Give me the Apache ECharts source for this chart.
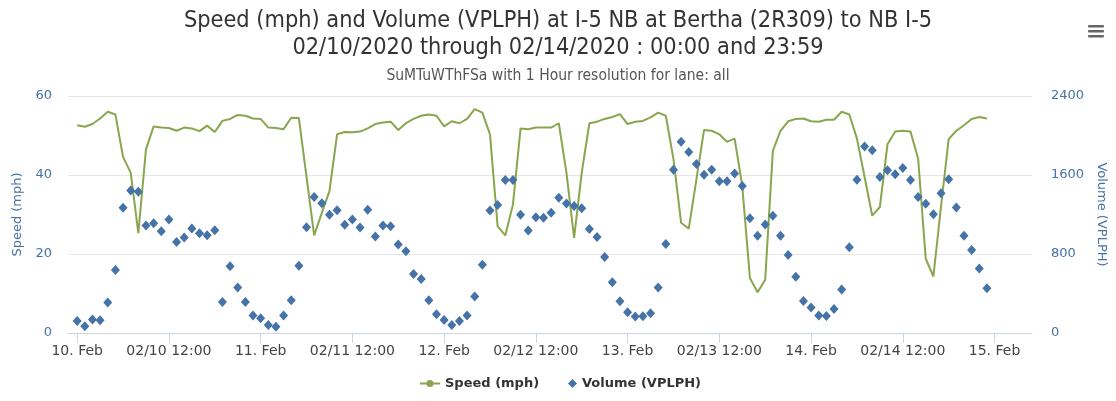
<!DOCTYPE html>
<html>
<head>
<meta charset="utf-8">
<title>Speed and Volume - I-5 NB at Bertha</title>
<script src="https://cdn.jsdelivr.net/npm/echarts@6/dist/echarts.min.js"></script>
<style>
  html, body { margin: 0; padding: 0; background: #fff; }
  #chart { width: 1116px; height: 401px; }
</style>
</head>
<body>
<div id="chart"></div>
<script>
// hourly samples, 02/10/2020 00:00 .. 02/14/2020 23:00 (x = hours since start)
const startTime = new Date(2020, 1, 10, 0, 0).getTime();
const HOUR = 3600 * 1000;

// speed (mph), 24 values per day
const speedDay1 = [52.6, 52.2, 52.9, 54.3, 56.0, 55.3, 44.6, 40.6, 25.3, 46.5, 52.3, 52.0,
  51.9, 51.2, 52.0, 51.8, 51.1, 52.5, 50.9, 53.7, 54.2, 55.2, 55.0, 54.3];
const speedDay2 = [54.2, 52.0, 51.9, 51.6, 54.5, 54.4, 39.5, 24.7, 30.4, 35.9, 50.3, 50.9,
  50.8, 51.0, 51.8, 52.9, 53.3, 53.5, 51.4, 53.1, 54.2, 55.0, 55.3, 55.0];
const speedDay3 = [52.3, 53.6, 53.1, 54.2, 56.7, 55.8, 50.3, 27.0, 24.7, 32.5, 51.8, 51.6,
  52.0, 52.0, 52.0, 53.1, 40.6, 24.1, 40.6, 53.1, 53.5, 54.2, 54.7, 55.4];
const speedDay4 = [52.9, 53.5, 53.7, 54.6, 55.8, 55.0, 44.0, 27.9, 26.4, 38.9, 51.4, 51.2,
  50.3, 48.4, 49.2, 37.2, 13.9, 10.3, 13.5, 46.1, 51.2, 53.6, 54.2, 54.3];
const speedDay5 = [53.6, 53.5, 54.0, 54.0, 56.0, 55.3, 49.2, 39.5, 29.7, 31.9, 47.8, 51.0,
  51.2, 51.0, 44.2, 18.8, 14.3, 32.1, 49.1, 51.2, 52.6, 54.2, 54.7, 54.3];

// volume (VPLPH)
const volumeDay1 = [122, 68, 136, 129, 308, 637, 1268, 1444, 1431, 1088, 1112, 1031,
  1149, 922, 966, 1058, 1010, 990, 1041, 315, 675, 461, 315, 176];
const volumeDay2 = [149, 81, 64, 176, 332, 681, 1071, 1376, 1315, 1197, 1244, 1095,
  1149, 1068, 1248, 976, 1088, 1081, 895, 827, 597, 546, 332, 190];
const volumeDay3 = [132, 81, 122, 176, 370, 692, 1241, 1295, 1549, 1549, 1197, 1037,
  1173, 1166, 1217, 1370, 1312, 1285, 1264, 1054, 973, 770, 515, 322];
const volumeDay4 = [210, 166, 170, 200, 461, 902, 1654, 1936, 1834, 1712, 1603, 1654,
  1536, 1536, 1614, 1488, 1163, 986, 1098, 1187, 986, 790, 570, 325];
const volumeDay5 = [258, 176, 173, 244, 441, 868, 1553, 1888, 1851, 1580, 1648, 1607,
  1671, 1549, 1376, 1309, 1203, 1414, 1556, 1271, 986, 841, 654, 454];

const speedValues = [].concat(speedDay1, speedDay2, speedDay3, speedDay4, speedDay5);
const volumeValues = [].concat(volumeDay1, volumeDay2, volumeDay3, volumeDay4, volumeDay5);

// x ticks every 12 hours
const tickHours = [0, 12, 24, 36, 48, 60, 72, 84, 96, 108, 120];

const pad = (n) => (n < 10 ? '0' + n : '' + n);
const formatTick = (value) => {
  const d = new Date(startTime + Math.round(value) * HOUR);
  if (d.getHours() === 0) return d.getDate() + '. Feb';
  return pad(d.getMonth() + 1) + '/' + pad(d.getDate()) + ' ' + pad(d.getHours()) + ':' + pad(d.getMinutes());
};

const speedData = speedValues.map((v, i) => [i, v]);
const volumeData = volumeValues.map((v, i) => [i, v]);

const axisBlue = '#4572A7';
const labelFont = '"DejaVu Sans", Verdana, sans-serif';
const titleFont = '"Liberation Sans Narrow", "DejaVu Sans Condensed", sans-serif';
const legendText = {
  fontFamily: labelFont,
  fontSize: 13,
  fontWeight: 'bold',
  color: '#333'
};

const chart = echarts.init(document.getElementById('chart'), null, { renderer: 'canvas' });

chart.setOption({
  animation: false,
  backgroundColor: '#fff',
  title: [
    {
      text: 'Speed (mph) and Volume (VPLPH) at I-5 NB at Bertha (2R309) to NB I-5\n02/10/2020 through 02/14/2020 : 00:00 and 23:59',
      left: 'center',
      top: 2,
      textStyle: {
        fontFamily: titleFont,
        fontSize: 23.3,
        fontWeight: 'normal',
        color: '#333',
        lineHeight: 27,
        align: 'center'
      }
    },
    {
      text: 'SuMTuWThFSa with 1 Hour resolution for lane: all',
      left: 'center',
      top: 63,
      textStyle: {
        fontFamily: titleFont,
        fontSize: 15.5,
        fontWeight: 'normal',
        color: '#555'
      }
    }
  ],
  legend: [
    {
      left: 414,
      bottom: 6,
      itemWidth: 20,
      itemHeight: 9,
      itemGap: 5,
      textStyle: legendText,
      data: [{ name: 'Speed (mph)' }]
    },
    {
      left: 563,
      bottom: 6,
      itemWidth: 9,
      itemHeight: 9,
      textStyle: legendText,
      data: [{ name: 'Volume (VPLPH)', icon: 'diamond' }]
    }
  ],
  grid: { left: 68, right: 83, top: 96, bottom: 68, containLabel: false },
  xAxis: {
    type: 'value',
    min: -1.2,
    max: 124.9,
    axisLine: { show: true, lineStyle: { color: '#ccd6eb', width: 1 } },
    axisTick: {
      show: true,
      customValues: tickHours,
      length: 10,
      lineStyle: { color: '#ccd6eb' }
    },
    axisLabel: {
      customValues: tickHours,
      formatter: formatTick,
      color: '#444',
      fontFamily: labelFont,
      fontSize: 14,
      margin: 11,
      showMinLabel: true,
      showMaxLabel: true
    },
    splitLine: { show: false }
  },
  yAxis: [
    {
      type: 'value',
      min: 0,
      max: 60,
      interval: 20,
      name: 'Speed (mph)',
      nameLocation: 'middle',
      nameGap: 43,
      nameRotate: 90,
      nameTextStyle: { color: axisBlue, fontFamily: labelFont, fontSize: 13 },
      axisLine: { show: false },
      axisTick: { show: false },
      axisLabel: {
        color: axisBlue,
        fontFamily: labelFont,
        fontSize: 13,
        margin: 16
      },
      splitLine: { show: true, lineStyle: { color: '#e6e6e6', width: 1 } }
    },
    {
      type: 'value',
      min: 0,
      max: 2400,
      interval: 800,
      name: 'Volume (VPLPH)',
      nameLocation: 'middle',
      nameGap: 58,
      nameRotate: -90,
      nameTextStyle: { color: axisBlue, fontFamily: labelFont, fontSize: 13 },
      axisLine: { show: false },
      axisTick: { show: false },
      axisLabel: {
        color: axisBlue,
        fontFamily: labelFont,
        fontSize: 13,
        margin: 19,
        formatter: (v) => String(v)
      },
      splitLine: { show: false }
    }
  ],
  graphic: [
    { type: 'rect', right: 12, top: 25, shape: { width: 16, height: 2.5, r: 1 }, style: { fill: '#666' } },
    { type: 'rect', right: 12, top: 30, shape: { width: 16, height: 2.5, r: 1 }, style: { fill: '#666' } },
    { type: 'rect', right: 12, top: 35, shape: { width: 16, height: 2.5, r: 1 }, style: { fill: '#666' } }
  ],
  series: [
    {
      name: 'Speed (mph)',
      type: 'line',
      yAxisIndex: 0,
      data: speedData,
      symbol: 'circle',
      symbolSize: 8,
      showSymbol: false,
      color: '#89A54E',
      lineStyle: { color: '#89A54E', width: 2 },
      z: 2
    },
    {
      name: 'Volume (VPLPH)',
      type: 'scatter',
      yAxisIndex: 1,
      data: volumeData,
      symbol: 'diamond',
      symbolSize: [9, 10],
      itemStyle: { color: '#4572A7', opacity: 1 },
      z: 3
    }
  ]
});
</script>
</body>
</html>
